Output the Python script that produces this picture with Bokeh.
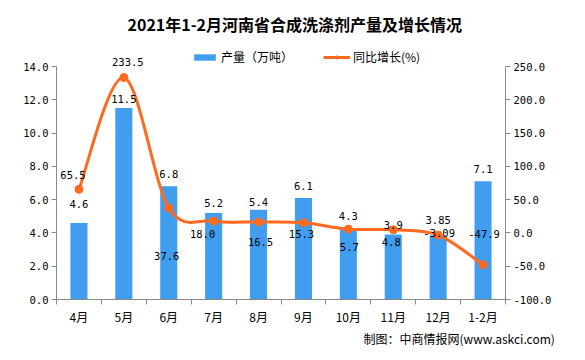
from bokeh.plotting import figure
from bokeh.models import (Range1d, LinearAxis, FixedTicker, SingleIntervalTicker,
                          NumeralTickFormatter, ColumnDataSource, Legend, LegendItem, Title)
from bokeh.embed import file_html
from bokeh.resources import INLINE

categories = ["4月", "5月", "6月", "7月", "8月", "9月", "10月", "11月", "12月", "1-2月"]
output = [4.6, 11.5, 6.8, 5.2, 5.4, 6.1, 4.3, 3.9, 3.85, 7.1]
growth = [65.5, 233.5, 37.6, 18.0, 16.5, 15.3, 5.7, 4.8, -3.09, -47.9]
output_labels = ["4.6", "11.5", "6.8", "5.2", "5.4", "6.1", "4.3", "3.9", "3.85", "7.1"]
growth_labels = ["65.5", "233.5", "37.6", "18.0", "16.5", "15.3", "5.7", "4.8", "-3.09", "-47.9"]
left_min, left_max = 0, 14
right_min, right_max = -100, 250

# label placement (pixels) - styling only
bar_label_dy = [-19, -9, -12, -10, -8, -12, -12, -10, -15, -12]
growth_label_dx = [-6, 4, -2, -11, 2, -2, 1, -2, 1, 1]
growth_label_dy = [-14, -15, 48, 13, 20, 11, 18, 12, -2, -31]

BLUE = "#419DF0"
ORANGE = "#FF6A21"
AXIS = "#898989"
NUM_FONT = "DejaVu Sans Mono"
CJK_FONT = "Noto Sans CJK SC"

# layout (pixels)
FRAME_W, FRAME_H = 449, 259
TOP_PAD = 26            # free space in frame above the top tick
axis_px = FRAME_H - TOP_PAD
y_hi = left_max + TOP_PAD * (left_max - left_min) / axis_px
yr_hi = right_max + TOP_PAD * (right_max - right_min) / axis_px

n = len(categories)
xs = list(range(n))

p = figure(frame_width=FRAME_W, frame_height=FRAME_H, output_backend="svg",
           toolbar_location=None,
           x_range=Range1d(-0.5, n - 0.5), y_range=Range1d(left_min, y_hi),
           min_border_left=56, min_border_right=64, min_border_top=40, min_border_bottom=45)
p.extra_y_ranges = {"right": Range1d(right_min, yr_hi)}
p.outline_line_color = None
p.xgrid.visible = False
p.ygrid.visible = False
p.background_fill_color = "white"
p.border_fill_color = "white"

# bars
bar_src = ColumnDataSource(dict(x=xs, top=output, lab=output_labels, dy=bar_label_dy))
bars = p.vbar(x="x", top="top", width=0.38, source=bar_src, fill_color=BLUE, line_color=None)

# smooth growth line (cubic bezier segments through the data points)
bx0, by0, bx1, by1, cx0, cy0, cx1, cy1 = [], [], [], [], [], [], [], []
for i in range(n - 1):
    a = max(i - 1, 0)
    d = min(i + 2, n - 1)
    bx0.append(xs[i]); by0.append(growth[i])
    bx1.append(xs[i + 1]); by1.append(growth[i + 1])
    cx0.append(xs[i] + (xs[i + 1] - xs[a]) / 6.0)
    cy0.append(growth[i] + (growth[i + 1] - growth[a]) / 6.0)
    cx1.append(xs[i + 1] - (xs[d] - xs[i]) / 6.0)
    cy1.append(growth[i + 1] - (growth[d] - growth[i]) / 6.0)
p.bezier(x0=bx0, y0=by0, x1=bx1, y1=by1, cx0=cx0, cy0=cy0, cx1=cx1, cy1=cy1,
         y_range_name="right", line_color=ORANGE, line_width=3)
line_src = ColumnDataSource(dict(x=xs, y=growth, lab=growth_labels,
                                 dx=growth_label_dx, dy=growth_label_dy))
# legend-only line (a single NaN point, draws nothing in the plot)
legend_line = p.line(x=[0], y=[float("nan")], line_color=ORANGE, line_width=3,
                     y_range_name="right")
pts = p.scatter(x="x", y="y", source=line_src, y_range_name="right", size=8,
                fill_color=ORANGE, line_color=ORANGE)

# data labels
p.text(x="x", y="top", text="lab", source=bar_src, y_offset="dy",
       text_align="center", text_baseline="middle", text_font_size="10.5px",
       text_font={"value": NUM_FONT}, text_color="black")
p.text(x="x", y="y", text="lab", source=line_src, x_offset="dx", y_offset="dy",
       y_range_name="right", text_align="center", text_baseline="middle",
       text_font_size="10.5px", text_font={"value": NUM_FONT}, text_color="black")

# axes
xa = p.xaxis[0]
xa.ticker = FixedTicker(ticks=xs, minor_ticks=[i - 0.5 for i in range(n + 1)])
xa.major_label_overrides = {i: c for i, c in zip(xs, categories)}
xa.major_tick_out = 0
xa.major_tick_in = 0
xa.minor_tick_out = 5
xa.minor_tick_in = 0
xa.minor_tick_line_color = AXIS
xa.axis_line_color = AXIS
xa.major_label_text_font = CJK_FONT
xa.major_label_text_font_size = "12px"
xa.major_label_text_color = "black"
xa.major_label_standoff = 3

ya = p.yaxis[0]
ya.ticker = SingleIntervalTicker(interval=2)
ya.formatter = NumeralTickFormatter(format="0.0")
ya.bounds = (left_min, left_max)
ya.major_tick_out = 5
ya.major_tick_in = 0
ya.minor_tick_out = 0
ya.minor_tick_in = 0
ya.axis_line_color = AXIS
ya.major_tick_line_color = AXIS
ya.major_label_text_font = NUM_FONT
ya.major_label_text_font_size = "10.5px"
ya.major_label_text_color = "black"
ya.major_label_standoff = 3

ra = LinearAxis(y_range_name="right", ticker=SingleIntervalTicker(interval=50),
                formatter=NumeralTickFormatter(format="0.0"), bounds=(right_min, right_max))
ra.major_tick_out = 5
ra.major_tick_in = 0
ra.minor_tick_out = 0
ra.minor_tick_in = 0
ra.axis_line_color = AXIS
ra.major_tick_line_color = AXIS
ra.major_label_text_font = NUM_FONT
ra.major_label_text_font_size = "10.5px"
ra.major_label_text_color = "black"
ra.major_label_standoff = 3
p.add_layout(ra, "right")

# legend (inside the top strip of the frame)
legend = Legend(items=[LegendItem(label="产量（万吨）", renderers=[bars]),
                       LegendItem(label="同比增长(%)", renderers=[legend_line, pts])],
                orientation="horizontal", location=(135, FRAME_H - 25),
                glyph_width=27, glyph_height=8, label_standoff=3, spacing=30,
                padding=0, margin=0, border_line_color=None, background_fill_alpha=0,
                label_text_font=CJK_FONT, label_text_font_size="12px",
                label_text_color="black")
p.add_layout(legend, "center")

# title and source note
p.add_layout(Title(text="2021年1-2月河南省合成洗涤剂产量及增长情况", align="left",
                   offset=71, standoff=10, text_font=CJK_FONT, text_font_size="16px",
                   text_font_style="bold", text_color="black"), "above")
p.add_layout(Title(text="制图：中商情报网(www.askci.com)", align="left", offset=307,
                   standoff=0, text_font=CJK_FONT, text_font_size="12px",
                   text_font_style="normal", text_color="black"), "below")

open("out.html", "w").write(file_html(p, INLINE))
